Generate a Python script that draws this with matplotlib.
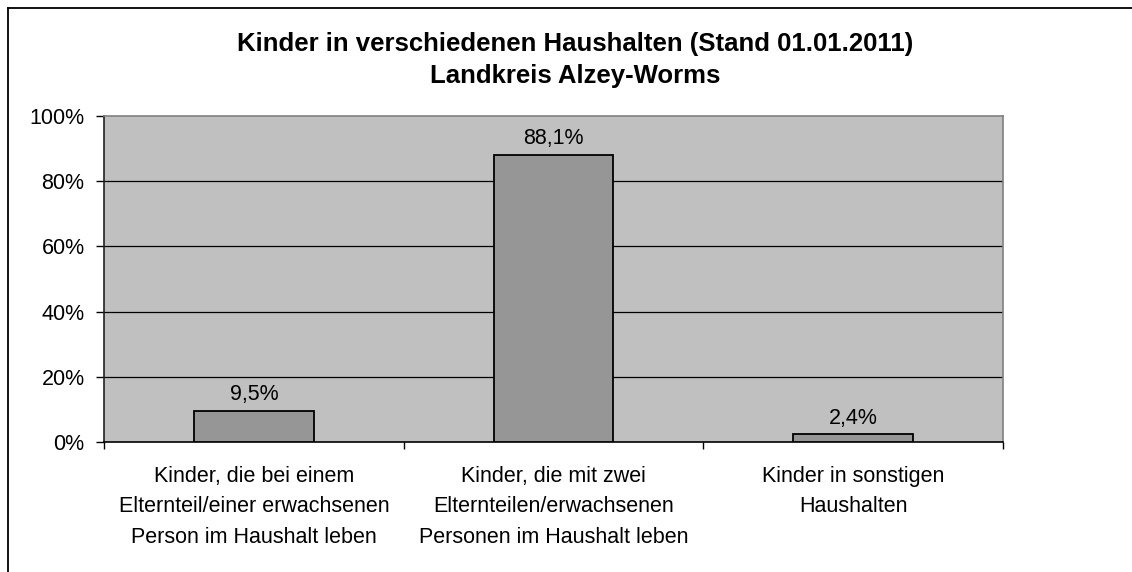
import matplotlib
matplotlib.use("Agg")
import matplotlib.pyplot as plt
from matplotlib.lines import Line2D

plt.rcParams['font.family'] = ['Liberation Sans', 'DejaVu Sans']

categories = [
    "Kinder, die bei einem\nElternteil/einer erwachsenen\nPerson im Haushalt leben",
    "Kinder, die mit zwei\nElternteilen/erwachsenen\nPersonen im Haushalt leben",
    "Kinder in sonstigen\nHaushalten",
]
values = [9.5, 88.1, 2.4]
value_labels = ["9,5%", "88,1%", "2,4%"]
yticks = [0, 20, 40, 60, 80, 100]
ytick_labels = ["0%", "20%", "40%", "60%", "80%", "100%"]
title = "Kinder in verschiedenen Haushalten (Stand 01.01.2011)\nLandkreis Alzey-Worms"

W, H = 1132, 572
fig = plt.figure(figsize=(W / 100, H / 100), dpi=100)
fig.patch.set_facecolor('white')

ax = fig.add_axes([104 / W, 1 - 442 / H, (1003 - 104) / W, (442 - 116) / H])
ax.set_facecolor('#C0C0C0')

x = list(range(len(values)))
bars = ax.bar(x, values, width=0.4, color='#969696', edgecolor='black', linewidth=1.3, zorder=3)

ax.set_xlim(-0.5, len(values) - 0.5)
ax.set_ylim(0, 100)

ax.set_yticks(yticks)
ax.set_yticklabels(ytick_labels, fontsize=15.5)
ax.tick_params(axis='y', direction='out', length=6, width=1, pad=8, color='black')

ax.set_xticks([i - 0.5 for i in range(len(values) + 1)])
ax.set_xticklabels([])
ax.tick_params(axis='x', which='major', direction='out', length=5, width=1, color='black')
ax.set_xticks(x, minor=True)
ax.set_xticklabels(categories, minor=True, fontsize=15.5)
ax.tick_params(axis='x', which='minor', length=0, pad=17)
for lbl in ax.get_xticklabels(minor=True):
    lbl.set_linespacing(1.6)

for yv in yticks[1:-1]:
    ax.axhline(yv, color='black', linewidth=0.9, zorder=1)

ax.spines['left'].set_color('#222222')
ax.spines['bottom'].set_color('black')
ax.spines['top'].set_color('#808080')
ax.spines['right'].set_color('#808080')
for s in ax.spines.values():
    s.set_linewidth(1.2)

for rect, lab in zip(bars, value_labels):
    ax.annotate(lab, (rect.get_x() + rect.get_width() / 2, rect.get_height()),
                xytext=(0, 4), textcoords='offset points', ha='center', va='bottom',
                fontsize=15.5, zorder=4)

fig.text(575 / W, 1 - 32 / H, title, ha='center', va='top', fontsize=18.5,
         fontweight='bold', linespacing=1.42)

# outer chart frame (left and top edges visible)
fig.add_artist(Line2D([8 / W, 8 / W], [0, 1 - 8 / H], transform=fig.transFigure, color='black', linewidth=1.3))
fig.add_artist(Line2D([8 / W, 1], [1 - 8 / H, 1 - 8 / H], transform=fig.transFigure, color='black', linewidth=1.3))

fig.savefig('out.png', dpi=100, facecolor='white')
